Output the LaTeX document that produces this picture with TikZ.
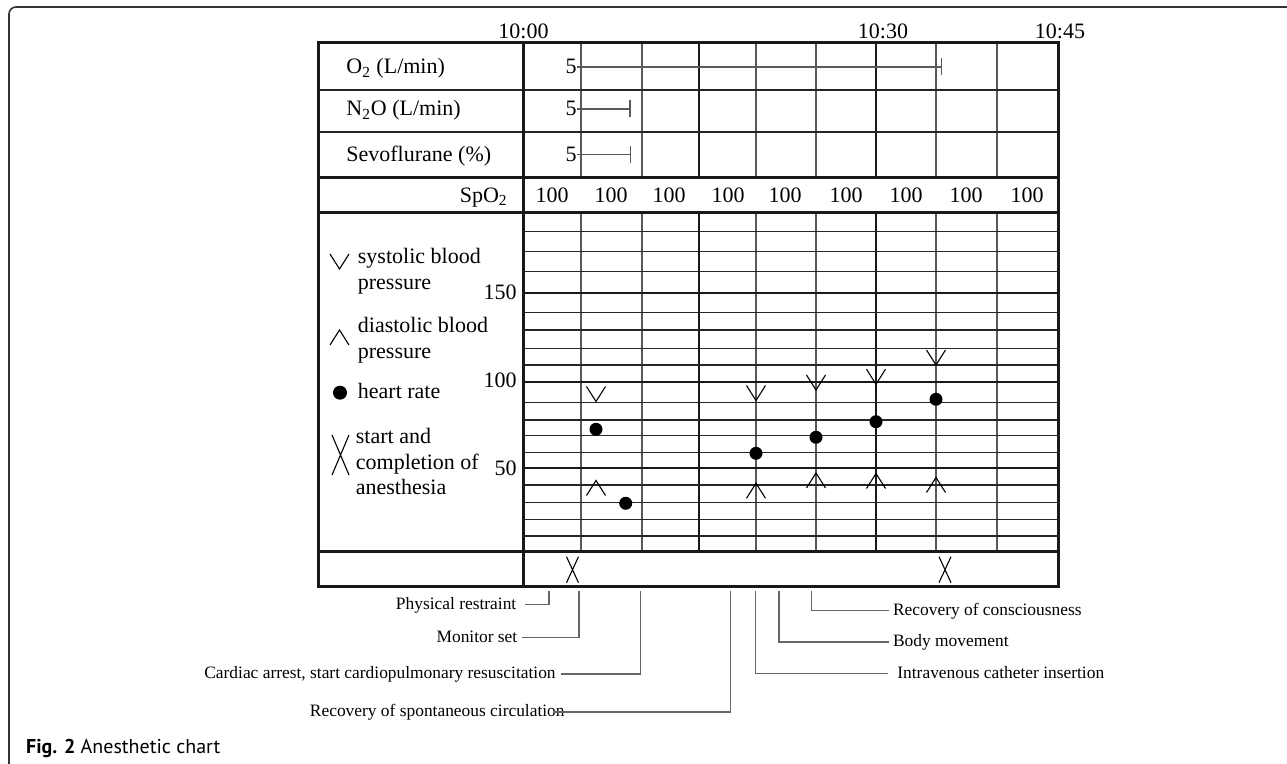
\documentclass[tikz,border=0pt]{standalone}
\usepackage{fontspec}
\setmainfont{Liberation Serif}
\newfontfamily\capfont{PT Sans}
\begin{document}
\begin{tikzpicture}[x=0.5pt,y=-0.5pt,
  framel/.style={line width=0.8pt, black!80, rounded corners=3.5pt},
  thinv/.style={line width=0.7pt, black!65},
  thinh/.style={line width=0.55pt, black!85},
  medline/.style={line width=1pt, black!90},
  thickline/.style={line width=1.5pt, black!90},
  conn/.style={line width=0.6pt, black!60},
  markline/.style={line width=0.55pt, black},
  lab/.style={font=\fontsize{11}{13}\selectfont, inner sep=0pt},
  ann/.style={font=\fontsize{8.7}{10}\selectfont, inner sep=0pt, text height=6pt, text depth=1pt},
  sysV/.pic={\draw[markline] (-9.5,-7.5) -- (0,7.5) -- (9.5,-7.5);},
  diaA/.pic={\draw[markline] (-9.5,7.5) -- (0,-7.5) -- (9.5,7.5);},
  hrdot/.pic={\fill (0,0) circle[radius=6.5];},
]
\useasboundingbox (0,0) rectangle (1287,764);
\begin{scope}
  \clip (0,0) rectangle (1287,764);
  \draw[framel] (9,7) rectangle (1320,775);
\end{scope}

% ---- grid ----
\foreach \x in {581,642,756,816,936,997} {
  \draw[thinv] (\x,43) -- (\x,178);
  \draw[thinv] (\x,213) -- (\x,552);
}
\foreach \x in {699,876} {
  \draw[medline] (\x,43) -- (\x,178);
  \draw[medline] (\x,213) -- (\x,552);
}
\foreach \y in {90,132} \draw[thinh] (318,\y) -- (1058,\y);
\foreach \y in {231.7,251.7,271.7,312.3,330,348.3,365,402.3,420,435.7,452.3,485,502.3,519.3,536}
  \draw[thinh] (523,\y) -- (1058,\y);
\foreach \y in {293.3,382.3,468.3} \draw[medline] (523,\y) -- (1058,\y);
\foreach \y in {178,213,552} \draw[thickline] (318,\y) -- (1058,\y);
\draw[thickline] (523,43) -- (523,587);
\draw[thickline] (318,43) rectangle (1058,587);

% ---- time labels ----
\node[lab, anchor=base] (t1000) at (523.5,39) {10:00};
\node[lab, anchor=base] (t1030) at (883,39) {10:30};
\node[lab, anchor=base] (t1045) at (1060,39) {10:45};

% ---- gas rows ----
\node[lab, anchor=base west] (lo2) at (346,74) {O\textsubscript{2} (L/min)};
\node[lab, anchor=base west] (ln2o) at (346,116) {N\textsubscript{2}O (L/min)};
\node[lab, anchor=base west] (lsevo) at (346,161.5) {Sevoflurane (\%)};
\node[lab, anchor=base east] (vo2) at (577,74) {5};
\node[lab, anchor=base east] (vn2o) at (577,116) {5};
\node[lab, anchor=base east] (vsevo) at (577,161.5) {5};
\coordinate (xo2) at (941.7,0);
\coordinate (xn2o) at (630,0);
\coordinate (xsevo) at (630.7,0);
\coordinate (eo2) at (vo2.east -| xo2);
\coordinate (en2o) at (vn2o.east -| xn2o);
\coordinate (esevo) at (vsevo.east -| xsevo);
\draw[thinv] (vo2.east) -- (eo2);
\draw[thinv] (vn2o.east) -- (en2o);
\draw[thinv] (vsevo.east) -- (esevo);
\draw[thinv] ([yshift=-4.25pt]eo2) -- ([yshift=4.25pt]eo2);
\draw[thinv] ([yshift=-4.25pt]en2o) -- ([yshift=4.25pt]en2o);
\draw[thinv] ([yshift=-4.25pt]esevo) -- ([yshift=4.25pt]esevo);

% ---- SpO2 row ----
\node[lab, anchor=base east] (lspo2) at (508,202.7) {SpO\textsubscript{2}};
\foreach \x [count=\i] in {552,611,669,728,785,846,906,966,1027}
  \node[lab, anchor=base] (sp\i) at (\x,202.7) {100};

% ---- legend ----
\pic at (339.5,261.5) {sysV};
\node[lab, anchor=base west] (lsys1) at (357.5,263.3) {systolic blood};
\node[lab, anchor=base west] (lsys2) at (357.5,289.3) {pressure};
\pic at (339.5,337.5) {diaA};
\node[lab, anchor=base west] (ldia1) at (357.5,332.3) {diastolic blood};
\node[lab, anchor=base west] (ldia2) at (357.5,358.3) {pressure};
\fill (340,392.7) circle[radius=7];
\node[lab, anchor=base west] (lhr) at (357.5,399) {heart rate};
\draw[markline] (332,435) -- (349,475) (349,435) -- (332,475);
\node[lab, anchor=base west] (lsc1) at (355.5,444) {start and};
\node[lab, anchor=base west] (lsc2) at (355.5,470) {completion of};
\node[lab, anchor=base west] (lsc3) at (355.5,495) {anesthesia};

% ---- axis ----
\node[lab, anchor=base east] (a150) at (517,299.3) {150};
\node[lab, anchor=base east] (a100) at (517,387.7) {100};
\node[lab, anchor=base east] (a50) at (517,476) {50};

% ---- data ----
\foreach \x/\y in {596/394,756/393,816/382.5,876/376.7,936/357.5} \pic at (\x,\y) {sysV};
\foreach \x/\y in {596/488,756/490.8,816/480.5,876/481,936/485} \pic at (\x,\y) {diaA};
\foreach \x/\y in {596/429.3,625.7/503.3,756/453.3,816/437.3,876/421.7,936/399.3} \pic at (\x,\y) {hrdot};

% ---- start / completion in bottom row ----
\draw[markline] (566.5,556.7) -- (578.5,582.7) (578.5,556.7) -- (566.5,582.7);
\draw[markline] (939,556.7) -- (951,582.7) (951,556.7) -- (939,582.7);

% ---- event annotations ----
\coordinate (ephys) at (549,591);
\coordinate (emon) at (579,591);
\coordinate (ecard) at (640.7,591);
\coordinate (erosc) at (730.7,591);
\coordinate (eiv) at (755.7,591);
\coordinate (ebody) at (779,591);
\coordinate (econs) at (811.7,591);

\node[ann, anchor=base east] (nphys) at (516.7,609.3) {Physical restraint};
\node[ann, anchor=base east] (nmon) at (517.7,642.7) {Monitor set};
\node[ann, anchor=base east] (ncard) at (556,679) {Cardiac arrest, start cardiopulmonary resuscitation};
\node[ann, anchor=base east] (nrosc) at (565,717) {Recovery of spontaneous circulation};
\node[ann, anchor=base west] (ncons) at (892.7,615.5) {Recovery of consciousness};
\node[ann, anchor=base west] (nbody) at (892.7,647) {Body movement};
\node[ann, anchor=base west] (niv) at (897,678.5) {Intravenous catheter insertion};

\draw[conn] (ephys) |- ([xshift=4pt]nphys.east);
\draw[conn] (emon) |- ([xshift=2pt]nmon.east);
\draw[conn] (ecard) |- ([xshift=2.3pt]ncard.east);
\draw[conn] (erosc) |- ([xshift=-5.5pt]nrosc.east);
\draw[conn] (econs) |- ([xshift=-1.7pt]ncons.west);
\draw[conn] (ebody) |- ([xshift=-1.7pt]nbody.west);
\draw[conn] (eiv) |- ([xshift=-4.3pt]niv.west);

% ---- caption ----
\node[anchor=base west, inner sep=0pt, font=\capfont\fontsize{10}{12}\selectfont] (cap) at (25.7,754) {\textbf{Fig. 2} Anesthetic chart};
\end{tikzpicture}
\end{document}
